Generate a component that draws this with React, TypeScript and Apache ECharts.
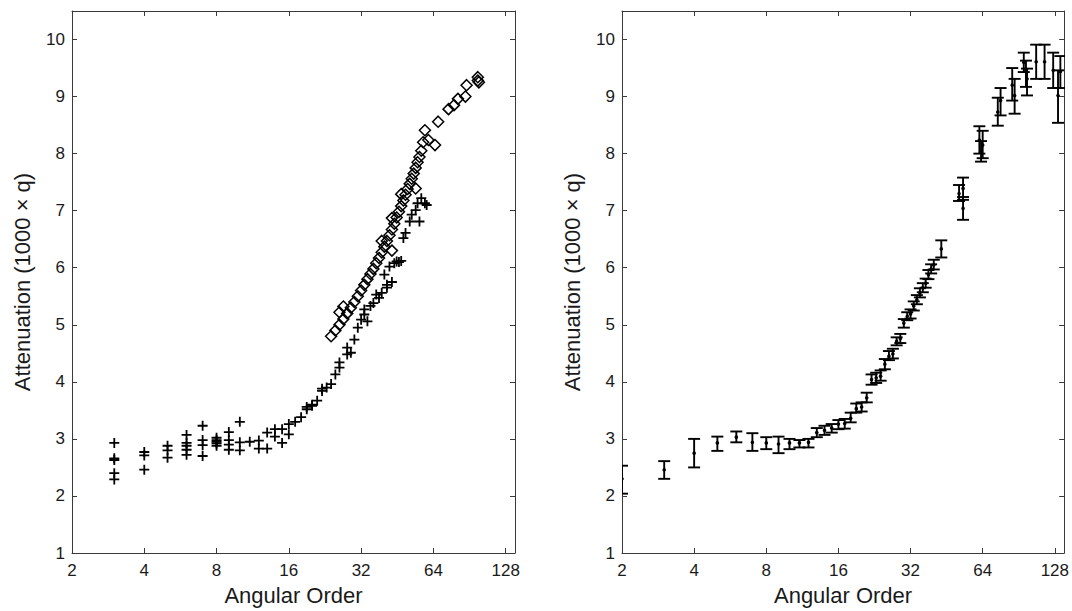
import React, { useEffect, useRef } from 'react';
import * as echarts from 'echarts';

// ---- tick labels ----
const xTickLabels = [2, 4, 8, 16, 32, 64, 128];
const yTickLabels = [1, 2, 3, 4, 5, 6, 7, 8, 9, 10];

// ---- left panel: "+" markers ----
const plusOrder = [
  3, 3, 3, 3, 3, 4, 4, 4, 5, 5, 5, 6, 6, 6, 6, 6, 7, 7, 7, 7, 8, 8, 8, 8, 8,
  9, 9, 9, 9, 10, 10, 10, 11, 12, 12, 13, 13, 14, 14, 15, 15, 16, 16, 17, 18,
  19, 19, 20, 20, 21, 22, 22, 23, 24, 25, 26, 26, 28, 28, 29, 30, 31, 32, 33,
  33, 34, 35, 36, 37, 38, 39, 40, 41, 41, 42, 43, 44, 45, 46, 47, 48, 49, 51,
  52, 54, 55, 56, 57, 59, 60,
];
const plusAtten = [
  2.93, 2.66, 2.63, 2.40, 2.29, 2.77, 2.71, 2.46, 2.88, 2.80, 2.67, 3.07, 2.93,
  2.88, 2.81, 2.72, 3.23, 2.98, 2.89, 2.70, 3.02, 2.98, 2.95, 2.92, 2.88, 3.12,
  2.98, 2.90, 2.81, 3.30, 2.94, 2.80, 2.95, 2.97, 2.83, 3.11, 2.83, 3.17, 3.04,
  3.17, 2.93, 3.26, 3.08, 3.30, 3.38, 3.52, 3.56, 3.58, 3.60, 3.67, 3.84, 3.88,
  3.90, 3.96, 4.13, 4.25, 4.34, 4.48, 4.60, 4.51, 4.74, 4.95, 5.09, 5.18, 5.27,
  5.06, 5.33, 5.38, 5.53, 5.47, 5.56, 5.88, 5.65, 5.70, 6.02, 5.75, 6.08, 6.11,
  6.10, 6.12, 6.52, 6.61, 6.81, 6.93, 7.01, 7.13, 6.81, 7.22, 7.13, 7.10,
];

// ---- left panel: diamond markers ----
const diamondOrder = [
  24, 25, 26, 27, 28, 29, 30, 31, 32, 33, 34, 35, 36, 37, 38, 39, 40, 41, 42,
  43, 44, 45, 46, 47, 48, 49, 50, 51, 52, 53, 54, 55, 56, 57, 58, 59, 26, 27,
  39, 43, 43, 47, 54, 61, 65, 67, 74, 78, 81, 87, 88, 98, 98, 99,
];
const diamondAtten = [
  4.80, 4.90, 5.00, 5.10, 5.20, 5.30, 5.40, 5.50, 5.60, 5.70, 5.80, 5.89, 5.98,
  6.08, 6.17, 6.27, 6.37, 6.47, 6.57, 6.67, 6.77, 6.88, 6.98, 7.08, 7.18, 7.28,
  7.38, 7.47, 7.56, 7.65, 7.75, 7.85, 7.94, 8.05, 8.20, 8.41, 5.22, 5.32, 6.47,
  6.87, 6.30, 7.29, 7.39, 8.24, 8.15, 8.56, 8.78, 8.85, 8.96, 9.00, 9.20, 9.28,
  9.34, 9.25,
];

// ---- right panel: error bars ----
const barOrder = [
  2, 3, 4, 5, 6, 7, 8, 9, 10, 11, 12, 13, 14, 15, 16, 17, 18, 19, 20, 21, 22,
  23, 24, 25, 26, 27, 28, 29, 30, 31, 32, 33, 34, 35, 36, 37, 38, 39, 40, 43,
  51, 53, 53, 62, 63, 64, 74, 76, 85, 87, 95, 97, 98, 107, 116, 126, 132, 135,
];
const barMean = [
  2.30, 2.46, 2.75, 2.93, 3.03, 2.94, 2.93, 2.91, 2.93, 2.93, 2.94, 3.11, 3.15,
  3.19, 3.26, 3.27, 3.36, 3.53, 3.56, 3.72, 4.04, 4.07, 4.10, 4.31, 4.45, 4.49,
  4.71, 4.76, 5.03, 5.15, 5.19, 5.33, 5.44, 5.56, 5.65, 5.73, 5.88, 5.98, 6.05,
  6.33, 7.30, 7.39, 7.04, 8.24, 8.03, 8.15, 8.73, 8.93, 9.20, 9.02, 9.60, 9.46,
  9.31, 9.61, 9.61, 9.46, 9.02, 9.44,
];
const barLow = [
  2.04, 2.30, 2.50, 2.79, 2.94, 2.79, 2.82, 2.75, 2.82, 2.85, 2.85, 3.03, 3.07,
  3.11, 3.17, 3.18, 3.29, 3.46, 3.48, 3.64, 3.95, 3.98, 4.02, 4.22, 4.38, 4.41,
  4.64, 4.68, 4.95, 5.08, 5.11, 5.25, 5.36, 5.48, 5.57, 5.65, 5.80, 5.90, 5.97,
  6.18, 7.17, 7.19, 6.84, 8.00, 7.86, 7.92, 8.49, 8.67, 8.93, 8.70, 9.43, 9.17,
  9.02, 9.31, 9.31, 9.15, 8.54, 9.15,
];
const barHigh = [
  2.53, 2.61, 3.00, 3.04, 3.13, 3.10, 3.03, 3.04, 3.00, 2.98, 3.00, 3.19, 3.23,
  3.26, 3.33, 3.35, 3.46, 3.62, 3.64, 3.81, 4.13, 4.16, 4.20, 4.40, 4.54, 4.58,
  4.78, 4.84, 5.10, 5.22, 5.27, 5.41, 5.52, 5.64, 5.73, 5.81, 5.96, 6.06, 6.14,
  6.48, 7.45, 7.58, 7.24, 8.48, 8.22, 8.40, 8.98, 9.15, 9.50, 9.31, 9.77, 9.63,
  9.49, 9.91, 9.91, 9.77, 9.46, 9.71,
];

const FONT = '"Liberation Sans", Arial, Helvetica, sans-serif';
const AXIS_COLOR = '#3a3a3a';
const TEXT_COLOR = '#1a1a1a';

const isPow2Label = (v: number) => {
  const r = Math.round(v);
  return Math.abs(v - r) < 0.01 && xTickLabels.includes(r) ? String(r) : '';
};
const isIntLabel = (v: number) => {
  const r = Math.round(v);
  return Math.abs(v - r) < 1e-6 && yTickLabels.includes(r) ? String(r) : '';
};

function xAxes(gridIndex: number) {
  const common = {
    gridIndex,
    type: 'log' as const,
    logBase: 2,
    min: 2,
    max: 140,
    splitLine: { show: false },
    axisLine: { show: true, lineStyle: { color: AXIS_COLOR, width: 1 } },
    axisTick: { show: true, inside: true, length: 5, lineStyle: { color: AXIS_COLOR } },
    minorTick: { show: false },
  };
  return [
    {
      ...common,
      position: 'bottom',
      axisLabel: {
        formatter: isPow2Label,
        fontSize: 17,
        color: TEXT_COLOR,
        fontFamily: FONT,
        margin: 9,
      },
      name: 'Angular Order',
      nameLocation: 'middle',
      nameGap: 31,
      nameTextStyle: { fontSize: 22, color: TEXT_COLOR, fontFamily: FONT },
    },
    { ...common, position: 'top', axisLabel: { show: false } },
  ];
}

function yAxes(gridIndex: number) {
  const common = {
    gridIndex,
    type: 'value' as const,
    min: 1,
    max: 10.5,
    interval: 1,
    splitLine: { show: false },
    axisLine: { show: true, lineStyle: { color: AXIS_COLOR, width: 1 } },
    axisTick: { show: true, inside: true, length: 5, lineStyle: { color: AXIS_COLOR } },
  };
  return [
    {
      ...common,
      position: 'left',
      axisLabel: {
        formatter: isIntLabel,
        fontSize: 17,
        color: TEXT_COLOR,
        fontFamily: FONT,
        margin: 7,
      },
      name: 'Attenuation (1000 \u00d7 q)',
      nameLocation: 'middle',
      nameGap: 39,
      nameTextStyle: { fontSize: 22, color: TEXT_COLOR, fontFamily: FONT },
    },
    { ...common, position: 'right', axisLabel: { show: false } },
  ];
}

export default function App() {
  const ref = useRef<HTMLDivElement>(null);

  useEffect(() => {
    if (!ref.current) return;
    const chart = echarts.init(ref.current, undefined, { renderer: 'svg' });

    const plusData = plusOrder.map((n, i) => [n, plusAtten[i]]);
    const diamondData = diamondOrder.map((n, i) => [n, diamondAtten[i]]);
    const barData = barOrder.map((n, i) => [n, barMean[i], barLow[i], barHigh[i]]);

    const option = {
      animation: false,
      backgroundColor: '#ffffff',
      grid: [
        { left: 72, top: 11, width: 443, height: 545, containLabel: false },
        { left: 622, top: 11, width: 443, height: 545, containLabel: false },
      ],
      xAxis: [...xAxes(0), ...xAxes(1)],
      yAxis: [...yAxes(0), ...yAxes(1)],
      series: [
        {
          type: 'scatter',
          xAxisIndex: 0,
          yAxisIndex: 0,
          data: plusData,
          symbol: 'path://M5 0L5 10M0 5L10 5',
          symbolSize: 10,
          itemStyle: { color: 'none', borderColor: '#000', borderWidth: 1.8, opacity: 1 },
          emphasis: { disabled: true },
          silent: true,
        },
        {
          type: 'scatter',
          xAxisIndex: 0,
          yAxisIndex: 0,
          data: diamondData,
          symbol: 'path://M5 0L10 5L5 10L0 5Z',
          symbolSize: 11,
          itemStyle: { color: 'none', borderColor: '#000', borderWidth: 1.5, opacity: 1 },
          emphasis: { disabled: true },
          silent: true,
        },
        {
          type: 'custom',
          xAxisIndex: 2,
          yAxisIndex: 2,
          data: barData,
          clip: true,
          encode: { x: 0, y: [1, 2, 3] },
          silent: true,
          renderItem: (_params: any, api: any) => {
            const n = api.value(0);
            const pM = api.coord([n, api.value(1)]);
            const pL = api.coord([n, api.value(2)]);
            const pH = api.coord([n, api.value(3)]);
            const w = 6;
            const st = { stroke: '#000', lineWidth: 1.9 };
            return {
              type: 'group',
              children: [
                { type: 'line', shape: { x1: pL[0], y1: pL[1], x2: pH[0], y2: pH[1] }, style: st },
                { type: 'line', shape: { x1: pL[0] - w, y1: pL[1], x2: pL[0] + w, y2: pL[1] }, style: st },
                { type: 'line', shape: { x1: pH[0] - w, y1: pH[1], x2: pH[0] + w, y2: pH[1] }, style: st },
                { type: 'circle', shape: { cx: pM[0], cy: pM[1], r: 1.8 }, style: { fill: '#000' } },
              ],
            };
          },
        },
      ],
    };

    chart.setOption(option as any);
    return () => chart.dispose();
  }, []);

  return (
    <div
      ref={ref}
      style={{ position: 'fixed', left: 0, top: 0, width: 1072, height: 611, background: '#fff' }}
    />
  );
}
